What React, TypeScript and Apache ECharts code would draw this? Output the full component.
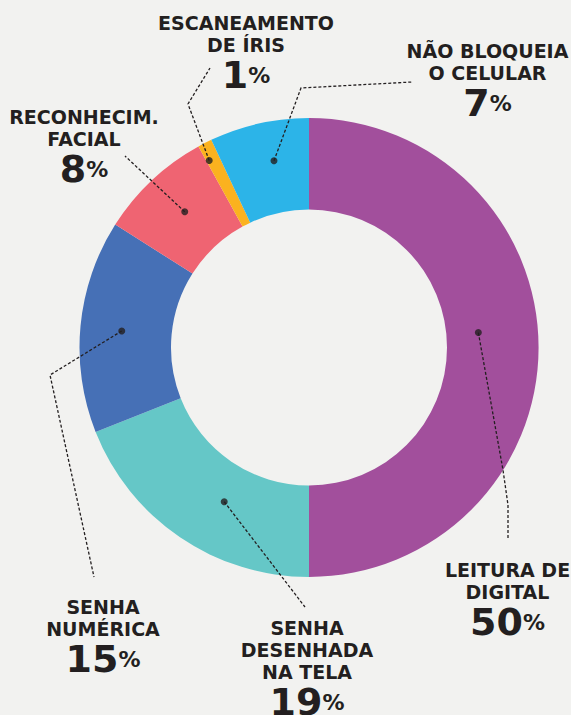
import React, { useEffect, useRef } from "react";
import * as echarts from "echarts";

// ---- data ----
const categories = [
  "LEITURA DE DIGITAL",
  "SENHA DESENHADA NA TELA",
  "SENHA NUMÉRICA",
  "RECONHECIM. FACIAL",
  "ESCANEAMENTO DE ÍRIS",
  "NÃO BLOQUEIA O CELULAR",
];
const labelText = [
  ["LEITURA DE", "DIGITAL"],
  ["SENHA", "DESENHADA", "NA TELA"],
  ["SENHA", "NUMÉRICA"],
  ["RECONHECIM.", "FACIAL"],
  ["ESCANEAMENTO", "DE ÍRIS"],
  ["NÃO BLOQUEIA", "O CELULAR"],
];
const values = [50, 19, 15, 8, 1, 7];
const colors = ["#a24f9c", "#65c7c7", "#4670b6", "#ef6472", "#fbb21f", "#2cb4e8"];

// ---- layout (label placement, leader-line anchors) ----
const CENTER = [309, 347.5];
const OUTER = 229.5;
const INNER = 138;
const anchorRadius = [170, 176, 188, 184, 212, 190];
const anchorShift = [-1.4, -1.5, -0.1, 0.2, -0.3, 0.55];
const labelPos: number[][] = [
  [507.5, 559],
  [307, 617],
  [103, 596],
  [84, 106],
  [246, 12],
  [487.5, 40],
];
const leaderBends: number[][][] = [
  [[503, 470], [508, 505], [508, 540]],
  [[305, 607]],
  [[50, 375], [94, 577]],
  [[125, 156]],
  [[188, 104], [210, 68]],
  [[301, 88], [412, 82]],
];

const TEXT = "#231f20";
const FONT = "'DejaVu Sans', sans-serif";

export default function App() {
  const ref = useRef<HTMLDivElement>(null);
  useEffect(() => {
    document.body.style.margin = "0";
    const chart = echarts.init(ref.current!, undefined, { renderer: "svg" });

    const total = values.reduce((a, b) => a + b, 0);
    const cum: number[] = [];
    let acc = 0;
    values.forEach((v) => {
      cum.push(((acc + v / 2) / total) * 100);
      acc += v;
    });
    const anchors = values.map((_, i) => [anchorRadius[i], cum[i] + anchorShift[i]]);

    const pieData = categories.map((c, i) => ({
      name: c,
      value: values[i],
      itemStyle: { color: colors[i] },
    }));

    const baseOption: any = {
      animation: false,
      backgroundColor: "#f2f2f0",
      polar: { center: CENTER, radius: OUTER },
      angleAxis: {
        type: "value",
        min: 0,
        max: 100,
        startAngle: 90,
        clockwise: true,
        show: false,
      },
      radiusAxis: { type: "value", min: 0, max: OUTER, show: false },
      series: [
        {
          type: "pie",
          center: CENTER,
          radius: [INNER, OUTER],
          startAngle: 90,
          clockwise: true,
          silent: true,
          label: { show: false },
          labelLine: { show: false },
          data: pieData,
          z: 1,
        },
        {
          type: "pie",
          center: CENTER,
          radius: [INNER, OUTER],
          startAngle: 90,
          clockwise: true,
          silent: true,
          avoidLabelOverlap: false,
          itemStyle: { color: "transparent" },
          label: {
            show: true,
            position: "outside",
            color: TEXT,
            align: "center",
            verticalAlign: "top",
            formatter: (p: any) => {
              const lines = labelText[p.dataIndex].map((l) => `{t|${l}}`).join("\n");
              return `${lines}\n{p|${values[p.dataIndex]}}{s|%}`;
            },
            rich: {
              t: { fontFamily: FONT, fontSize: 19, fontWeight: "bold", lineHeight: 22, color: TEXT, align: "center" },
              p: { fontFamily: FONT, fontSize: 38, fontWeight: "bold", lineHeight: 38, color: TEXT },
              s: { fontFamily: FONT, fontSize: 22, fontWeight: "bold", lineHeight: 38, color: TEXT },
            },
          },
          labelLine: {
            show: true,
            length: 10,
            length2: 10,
            lineStyle: { color: TEXT, width: 1.3, type: [3, 2] },
          },
          data: categories.map((c, i) => ({ name: c, value: values[i] })),
          z: 5,
        },
        {
          type: "scatter",
          coordinateSystem: "polar",
          symbol: "circle",
          symbolSize: 7,
          itemStyle: { color: TEXT },
          silent: true,
          data: anchors,
          z: 10,
        },
      ],
    };
    chart.setOption(baseOption);

    const anchorPx = anchors.map((a) => chart.convertToPixel({ seriesIndex: 2 }, a) as number[]);
    chart.setOption({
      series: [
        {},
        {
          labelLayout: (params: any) => {
            const i = params.dataIndex;
            return {
              x: labelPos[i][0],
              y: labelPos[i][1],
              align: "center",
              verticalAlign: "top",
              labelLinePoints: [anchorPx[i], ...leaderBends[i]],
            };
          },
        },
        {},
      ],
    });

    return () => chart.dispose();
  }, []);
  return <div ref={ref} style={{ width: 571, height: 715 }} />;
}
